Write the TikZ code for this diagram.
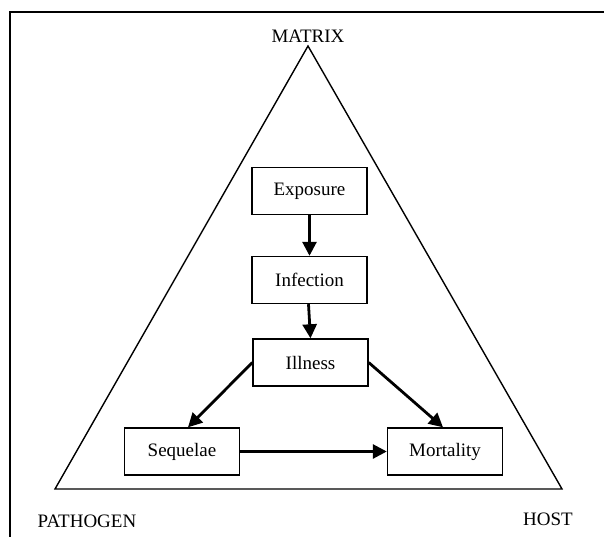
\documentclass[tikz,border=0pt]{standalone}
\usepackage{fontspec}
\setmainfont{Liberation Serif}
\usetikzlibrary{arrows.meta,calc}
\begin{document}
\begin{tikzpicture}[x=1bp,y=-1bp,
  stagebox/.style={draw,line width=1.4bp,minimum width=115bp,minimum height=47bp,inner sep=0pt,font=\fontsize{19bp}{22bp}\selectfont},
  flow/.style={line width=2.8bp,-{Triangle[length=14bp,width=14bp]}},
  corner/.style={font=\fontsize{19bp}{22bp}\selectfont,inner sep=0pt}]
\useasboundingbox (0,0) rectangle (604,537);
\draw[line width=1.8bp] (604,12) -- (10,12) -- (10,537);
\coordinate (apex) at (308,46);
\coordinate (bl) at (55,489);
\coordinate (br) at (562,489);
\draw[line width=1.4bp,line join=miter] (apex) -- (bl) -- (br) -- cycle;
\node[corner,anchor=base] (matrix) at (308,43) {MATRIX};
\node[corner,anchor=base] (pathogen) at (87,527) {PATHOGEN};
\node[corner,anchor=base] (host) at (548,525) {HOST};
\node[stagebox] (exposure) at (309.5,191) {Exposure};
\node[stagebox] (infection) at (309.5,280) {Infection};
\node[stagebox] (illness) at (310.5,362.5) {Illness};
\node[stagebox] (sequelae) at (182,451.5) {Sequelae};
\node[stagebox] (mortality) at (445,451.5) {Mortality};
\draw[flow] (exposure.south) -- (infection.north);
\draw[flow] ($(infection.south)+(-1,0)$) -- (illness.north);
\draw[flow] (illness.west) -- ($(sequelae.north)+(6,0)$);
\draw[flow] (illness.east) -- ($(mortality.north)+(-2,0)$);
\draw[flow] (sequelae.east) -- (mortality.west);
\end{tikzpicture}
\end{document}
